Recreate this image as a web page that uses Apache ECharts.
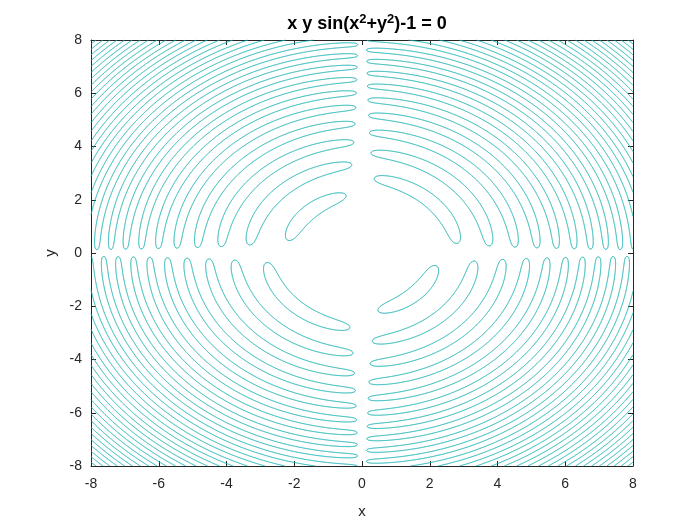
<!DOCTYPE html>
<html>
<head>
<meta charset="utf-8">
<script src="https://cdn.jsdelivr.net/npm/echarts@6/dist/echarts.min.js"></script>
<style>html,body{margin:0;padding:0;background:#fff;}#c{width:700px;height:526px;}</style>
</head>
<body>
<div id="c"></div>
<script>
// Chart definition: implicit curve x*y*sin(x^2+y^2) - 1 = 0 (from the title)
const xRange = [-8, 8];
const yRange = [-8, 8];
const xTicks = [-8, -6, -4, -2, 0, 2, 4, 6, 8];
const yTicks = [-8, -6, -4, -2, 0, 2, 4, 6, 8];
const contourLevel = [0];
const gridCells = [1000];

function f(x, y) { return x * y * Math.sin(x * x + y * y) - 1; }

function contour() {
  const N = gridCells[0];
  const hx = (xRange[1] - xRange[0]) / N, hy = (yRange[1] - yRange[0]) / N;
  const L = contourLevel[0];
  const V = new Float64Array((N + 1) * (N + 1));
  const X = i => xRange[0] + i * hx, Y = j => yRange[0] + j * hy;
  for (let i = 0; i <= N; i++) for (let j = 0; j <= N; j++) V[i * (N + 1) + j] = f(X(i), Y(j)) - L;
  const v = (i, j) => V[i * (N + 1) + j];
  const HOFF = 0, VOFF = (N + 1) * N, TOT = 2 * (N + 1) * N;
  const Hid = (i, j) => HOFF + j * N + i;
  const Vid = (i, j) => VOFF + i * N + j;
  const adj = new Int32Array(TOT * 2).fill(-1);
  function link(a, b) {
    if (adj[2 * a] < 0) adj[2 * a] = b; else adj[2 * a + 1] = b;
    if (adj[2 * b] < 0) adj[2 * b] = a; else adj[2 * b + 1] = a;
  }
  function pt(e) {
    let i, j, va, vb;
    if (e < VOFF) {
      j = Math.floor(e / N); i = e - j * N;
      va = v(i, j); vb = v(i + 1, j);
      const t = va / (va - vb);
      return [+(X(i) + t * hx).toFixed(4), +Y(j).toFixed(4)];
    } else {
      const k = e - VOFF; i = Math.floor(k / N); j = k - i * N;
      va = v(i, j); vb = v(i, j + 1);
      const t = va / (va - vb);
      return [+X(i).toFixed(4), +(Y(j) + t * hy).toFixed(4)];
    }
  }
  for (let i = 0; i < N; i++) {
    for (let j = 0; j < N; j++) {
      const a = v(i, j) > 0, b = v(i + 1, j) > 0, c = v(i + 1, j + 1) > 0, d = v(i, j + 1) > 0;
      const cr = [];
      const eB = Hid(i, j), eR = Vid(i + 1, j), eT = Hid(i, j + 1), eL = Vid(i, j);
      if (a !== b) cr.push(eB);
      if (b !== c) cr.push(eR);
      if (c !== d) cr.push(eT);
      if (d !== a) cr.push(eL);
      if (cr.length === 2) link(cr[0], cr[1]);
      else if (cr.length === 4) {
        const ctr = f(X(i) + hx / 2, Y(j) + hy / 2) - L > 0;
        if (ctr === a) { link(eB, eR); link(eT, eL); }
        else { link(eL, eB); link(eR, eT); }
      }
    }
  }
  const seen = new Uint8Array(TOT);
  const lines = [];
  function walk(start) {
    const path = [pt(start)];
    seen[start] = 1;
    let prev = -1, cur = start;
    while (true) {
      let nx = adj[2 * cur];
      if (nx === prev || nx < 0 || seen[nx]) {
        const alt = adj[2 * cur + 1];
        if (alt >= 0 && alt !== prev && !seen[alt]) nx = alt;
        else if (nx >= 0 && nx !== prev && seen[nx] && nx === start) { path.push(pt(start)); break; }
        else if (alt >= 0 && alt === start && prev !== start && path.length > 2) { path.push(pt(start)); break; }
        else break;
      }
      if (nx < 0) break;
      seen[nx] = 1;
      path.push(pt(nx));
      prev = cur; cur = nx;
    }
    return path;
  }
  for (let e = 0; e < TOT; e++) {
    if (!seen[e] && adj[2 * e] >= 0 && adj[2 * e + 1] < 0) lines.push(walk(e));
  }
  for (let e = 0; e < TOT; e++) {
    if (!seen[e] && adj[2 * e] >= 0) lines.push(walk(e));
  }
  return lines;
}

const polylines = contour();
const axisColor = '#262626';
const fontFam = '"Liberation Sans", Arial, Helvetica, sans-serif';

const chart = echarts.init(document.getElementById('c'), null, { renderer: 'canvas' });
const baseAxis = {
  type: 'value', interval: 2,
  axisLine: { show: true, onZero: false, lineStyle: { color: axisColor, width: 1 } },
  axisTick: { show: true, inside: true, length: 5, lineStyle: { color: axisColor } },
  splitLine: { show: false },
  axisLabel: { color: axisColor, fontSize: 14, fontFamily: fontFam },
  nameTextStyle: { color: axisColor, fontSize: 15, fontFamily: fontFam }
};
chart.setOption({
  animation: false,
  backgroundColor: '#fff',
  title: {
    text: 'x y sin(x{s|2}+y{s|2})-1 = 0',
    left: 362, top: 8, textAlign: 'center',
    textStyle: {
      fontSize: 18, fontWeight: 'bold', color: '#000', fontFamily: fontFam,
      rich: { s: { fontSize: 13, fontWeight: 'bold', color: '#000', fontFamily: fontFam, padding: [0, 0, 9, 0] } }
    }
  },
  grid: { left: 91, right: 67, top: 40, bottom: 60, containLabel: false },
  xAxis: [
    Object.assign({}, baseAxis, { min: xRange[0], max: xRange[1], position: 'bottom', name: 'x', nameLocation: 'middle', nameGap: 38, axisLabel: Object.assign({}, baseAxis.axisLabel, { margin: 11 }) }),
    Object.assign({}, baseAxis, { min: xRange[0], max: xRange[1], position: 'top', axisLabel: { show: false } })
  ],
  yAxis: [
    Object.assign({}, baseAxis, { min: yRange[0], max: yRange[1], position: 'left', name: 'y', nameLocation: 'middle', nameGap: 33, nameRotate: 90, axisLabel: Object.assign({}, baseAxis.axisLabel, { margin: 9 }) }),
    Object.assign({}, baseAxis, { min: yRange[0], max: yRange[1], position: 'right', axisLabel: { show: false } })
  ],
  series: [{
    type: 'lines',
    coordinateSystem: 'cartesian2d',
    xAxisIndex: 0, yAxisIndex: 0,
    polyline: true,
    silent: true,
    lineStyle: { color: '#12B0B0', width: 1, opacity: 1 },
    data: polylines.map(p => ({ coords: p }))
  }]
});
</script>
</body>
</html>
